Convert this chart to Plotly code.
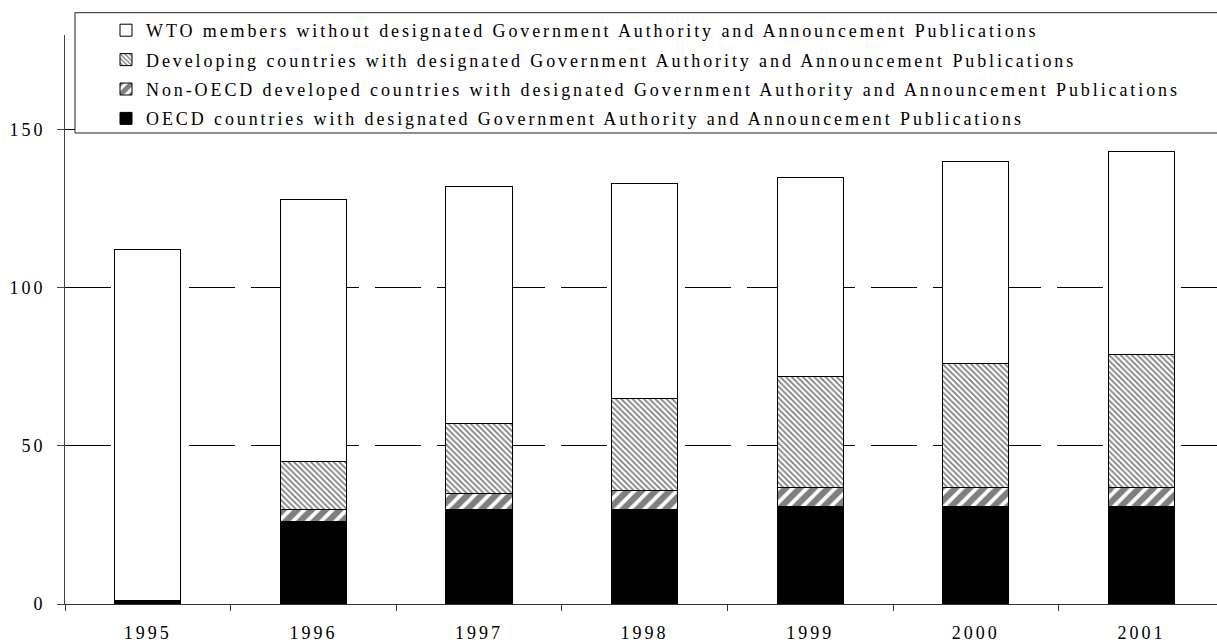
import plotly.graph_objects as go

years = ["1995", "1996", "1997", "1998", "1999", "2000", "2001"]
oecd = [1, 26, 30, 30, 31, 31, 31]
non_oecd = [0, 4, 5, 6, 6, 6, 6]
developing = [0, 15, 22, 29, 35, 39, 42]
without = [111, 83, 75, 68, 63, 64, 64]

names = [
    "OECD countries with designated Government Authority and Announcement Publications",
    "Non-OECD developed countries with designated Government Authority and Announcement Publications",
    "Developing countries with designated Government Authority and Announcement Publications",
    "WTO members without designated Government Authority and Announcement Publications",
]
y_ticks = [0, 50, 100, 150]

FONT = "Liberation Serif, Times New Roman, serif"
LS = "letter-spacing:3px"
LEG_LS = "letter-spacing:2.9px"


def sp(t, ls=LS):
    return f'<span style="{ls}">{t}</span>'


line = dict(color="black", width=1)
fig = go.Figure()
fig.add_trace(go.Bar(x=years, y=oecd, name=sp(names[0], LEG_LS), legendgroup="a", legendrank=4,
                     marker=dict(color="black", line=line)))
fig.add_trace(go.Bar(x=years, y=non_oecd, name=sp(names[1], LEG_LS), legendgroup="b", legendrank=3,
                     marker=dict(color="white", line=line,
                                 pattern=dict(shape="/", fgcolor="black", bgcolor="white",
                                              size=10, solidity=0.62))))
fig.add_trace(go.Bar(x=years, y=developing, name=sp(names[2], LEG_LS), legendgroup="c", legendrank=2,
                     marker=dict(color="white", line=line,
                                 pattern=dict(shape="\\", fgcolor="black", bgcolor="white",
                                              size=4, solidity=0.45))))
fig.add_trace(go.Bar(x=years, y=without, name=sp(names[3], LEG_LS), legendgroup="d", legendrank=1,
                     marker=dict(color="white", line=line)))

L, R, T, B = 65, 0, 35, 40
W, H = 1217, 644
pw = W - L - R
ph = H - T - B
cat_w = 165.6


def px_x(p):
    return (p - L) / pw


def px_y(p):
    return (H - B - p) / ph


fig.add_shape(type="rect", xref="paper", yref="paper",
              x0=px_x(75), x1=px_x(1240), y0=px_y(133), y1=px_y(12.7),
              fillcolor="white", line=dict(color="#222", width=1), layer="above")

fig.update_layout(
    width=W, height=H,
    margin=dict(l=L, r=R, t=T, b=B),
    paper_bgcolor="white", plot_bgcolor="white",
    barmode="stack", bargap=0.6,
    font=dict(family=FONT, size=18, color="black"),
    showlegend=True,
    legend=dict(x=px_x(106), y=px_y(12), xanchor="left", yanchor="top",
                traceorder="grouped", tracegroupgap=3,
                bgcolor="rgba(0,0,0,0)", borderwidth=0,
                font=dict(family=FONT, size=18, color="black")),
    xaxis=dict(type="category", range=[-0.5, -0.5 + pw / cat_w],
               tickmode="array", tickvals=years, ticktext=[sp(y) for y in years],
               tickson="boundaries", ticks="outside", ticklen=6, tickcolor="#333",
               showline=True, linecolor="#333", linewidth=1, showgrid=False,
               ticklabelstandoff=12),
    yaxis=dict(range=[0, 180], tickmode="array", tickvals=y_ticks,
               ticktext=[sp(v) for v in y_ticks],
               ticks="outside", ticklen=7, tickcolor="#444",
               showline=True, linecolor="#444", linewidth=1,
               showgrid=True, gridcolor="black", gridwidth=1, griddash="46px,16px",
               zeroline=False, ticklabelstandoff=8),
)

fig.write_html("out.html")
